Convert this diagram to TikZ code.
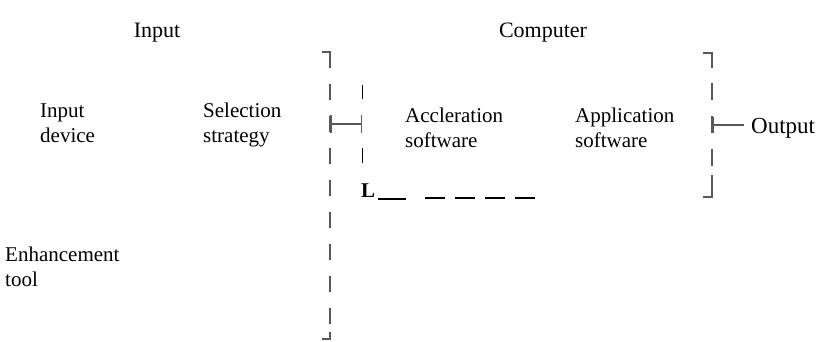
\documentclass[tikz,border=0pt]{standalone}
\usepackage{fontspec}
\setmainfont{Liberation Serif}
\usetikzlibrary{arrows.meta}
\begin{document}
\begin{tikzpicture}[x=1pt,y=-1pt,
	rule/.style={line width=1.5pt,draw=black!65},
	thinrule/.style={line width=1.1pt,draw=black},
	boxtext/.style={anchor=base west,inner sep=0pt,align=left,font=\fontsize{21}{25}\selectfont},
	headtext/.style={anchor=base,inner sep=0pt,font=\fontsize{22}{26}\selectfont}]
	\useasboundingbox (0,0) rectangle (828,341);

	\node [headtext] (HeadInput) at (157,37) {Input};
	\node [headtext] (HeadComputer) at (543,37) {Computer};

	\node [boxtext] (InputDevice) at (40,142) {Input\\device};
	\node [boxtext] (Selection) at (203,142) {Selection\\strategy};
	\node [boxtext] (Accleration) at (405,147) {Accleration\\software};
	\node [boxtext] (Application) at (575,147) {Application\\software};
	\node [boxtext] (Enhancement) at (5,286) {Enhancement\\tool};

	\coordinate (LeftTick) at (330,124);
	\coordinate (InnerTick) at (362,124);
	\draw [rule] (322,52) -| (330,68);
	\draw [rule,dash pattern=on 16pt off 16pt] (330,84) -- (330,324);
	\draw [rule] (330,332) |- (322,339);
	\draw [rule,{Bar[width=18pt]}-{Bar[width=18pt]}] (LeftTick) -- (InnerTick);
	\draw [thinrule,line width=0.8pt] (362,85) -- (362,99);
	\draw [thinrule,line width=0.8pt] (362,148) -- (362,163);

	\node [boxtext,font=\fontsize{21}{25}\selectfont\bfseries] (LMark) at (361,197) {L};
	\draw [thinrule] ([xshift=3pt,yshift=-2pt]LMark.base east) -- ++(28,0);
	\draw [thinrule,dash pattern=on 20pt off 10pt] (425,198) -- (535,198);

	\coordinate (RightTick) at (712,125);
	\node [boxtext,anchor=west,font=\fontsize{23}{27}\selectfont] (Output) at (751,128) {Output};
	\draw [rule] (703,53) -| (712,68);
	\draw [rule,dash pattern=on 17pt off 16pt] (712,83) -- (712,166);
	\draw [rule] (712,175) |- (703,197);
	\draw [rule,{Bar[width=16pt]}-] (RightTick) -- ([xshift=-7pt]RightTick -| Output.west);
\end{tikzpicture}
\end{document}
